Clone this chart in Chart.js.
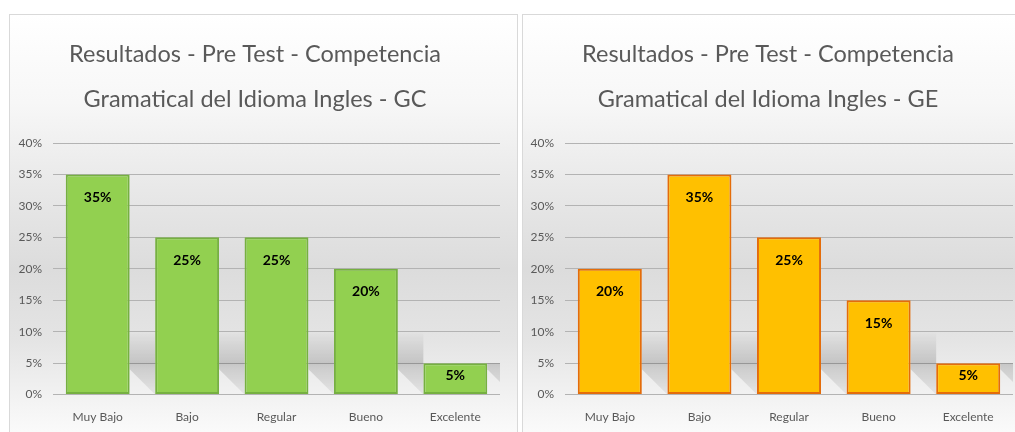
<!DOCTYPE html>
<html>
<head>
<meta charset="utf-8">
<script src="https://cdn.jsdelivr.net/npm/chart.js@4"></script>
<style>
    html, body { margin: 0; padding: 0; background: #fff; }
    body { width: 1015px; height: 432px; position: relative; overflow: hidden; }
    .box {
        position: absolute;
        top: 14px;
        height: 440px;
        box-sizing: border-box;
        border: 1px solid #d9d9d9;
        background: linear-gradient(to bottom, #ffffff 0%, #f7f7f7 20%, #e8e8e8 40%, #dcdcdc 58%, #e4e4e4 74%, #f5f5f5 90%, #ffffff 100%);
    }
    .box canvas { position: absolute; left: 0; top: 0; }
</style>
</head>
<body>
<div class="box" style="left:9px; width:509px;"><canvas id="chartGC" width="506" height="431"></canvas></div>
<div class="box" style="left:522px; width:500px;"><canvas id="chartGE" width="492" height="431"></canvas></div>
<script>
const categories = ['Muy Bajo', 'Bajo', 'Regular', 'Bueno', 'Excelente'];
const valuesGC = [35, 25, 25, 20, 5];
const valuesGE = [20, 35, 25, 15, 5];
const titleGC = ['Resultados - Pre Test - Competencia', 'Gramatical del Idioma Ingles - GC'];
const titleGE = ['Resultados - Pre Test - Competencia', 'Gramatical del Idioma Ingles - GE'];
const yMax = 40;
const yStep = 5;

const fontFamily = 'Lato, "Open Sans", sans-serif';

// soft floor shadow behind the bars
const floorShadow = {
    id: 'floorShadow',
    beforeDatasetsDraw(chart) {
        const ctx = chart.ctx;
        const area = chart.chartArea;
        const y = chart.scales.y;
        const meta = chart.getDatasetMeta(0);
        const top = y.getPixelForValue(10);
        const mid = y.getPixelForValue(5);
        const bottom = y.getPixelForValue(0);
        ctx.save();
        ctx.beginPath();
        ctx.rect(area.left, area.top, area.right - area.left, area.bottom - area.top);
        ctx.clip();
        meta.data.forEach((bar, i) => {
            const right = bar.x + bar.width / 2;
            const gap = chart.scales.x.width / categories.length - bar.width;
            const grad = ctx.createLinearGradient(0, top, 0, bottom);
            grad.addColorStop(0, 'rgba(0,0,0,0)');
            grad.addColorStop(0.5, 'rgba(0,0,0,0.16)');
            grad.addColorStop(0.56, 'rgba(0,0,0,0.13)');
            grad.addColorStop(1, 'rgba(0,0,0,0.05)');
            ctx.fillStyle = grad;
            ctx.beginPath();
            if (i < meta.data.length - 1) {
                ctx.moveTo(right, top);
                ctx.lineTo(right + gap, top);
            } else {
                ctx.moveTo(right, mid);
                ctx.lineTo(right + gap, mid);
            }
            ctx.lineTo(right + gap, bottom);
            ctx.lineTo(right, mid + 6);
            ctx.closePath();
            ctx.fill();
        });
        ctx.restore();
    }
};

// value labels inside the top of each bar
const barLabels = {
    id: 'barLabels',
    afterDatasetsDraw(chart) {
        const ctx = chart.ctx;
        const meta = chart.getDatasetMeta(0);
        const data = chart.data.datasets[0].data;
        ctx.save();
        ctx.font = 'bold 14px ' + fontFamily;
        ctx.fillStyle = '#000';
        ctx.textAlign = 'center';
        ctx.textBaseline = 'middle';
        meta.data.forEach((bar, i) => {
            const h = bar.base - bar.y;
            const off = Math.min(23, h / 2 - 3);
            ctx.fillText(data[i] + '%', bar.x, bar.y + off);
        });
        ctx.restore();
    }
};

function makeChart(id, values, title, fill, border, yWidth, padRight) {
    const ctx = document.getElementById(id).getContext('2d');
    return new Chart(ctx, {
        type: 'bar',
        data: {
            labels: categories,
            datasets: [{
                data: values,
                backgroundColor: fill,
                borderColor: border,
                borderWidth: 2,
                borderSkipped: false,
                categoryPercentage: 1,
                barPercentage: 0.715
            }]
        },
        options: {
            responsive: false,
            animation: false,
            layout: { padding: { left: 0, right: padRight, top: 0, bottom: 7 } },
            plugins: {
                legend: { display: false },
                tooltip: { enabled: false },
                title: {
                    display: true,
                    text: title,
                    color: '#595959',
                    font: { family: fontFamily, size: 23.5, weight: 'normal', lineHeight: '45px' },
                    padding: { top: 17, bottom: 21 }
                }
            },
            scales: {
                x: {
                    grid: { display: false, drawTicks: false },
                    border: { display: false },
                    ticks: { color: '#595959', padding: 15, font: { family: fontFamily, size: 12 } }
                },
                y: {
                    min: 0,
                    max: yMax,
                    afterFit(scale) { scale.width = yWidth; },
                    grid: { color: '#b3b3b3', lineWidth: 1, drawTicks: false },
                    border: { display: false },
                    ticks: {
                        stepSize: yStep,
                        color: '#595959',
                        padding: 11,
                        font: { family: fontFamily, size: 12 },
                        callback: v => v + '%'
                    }
                }
            }
        },
        plugins: [floorShadow, barLabels]
    });
}

makeChart('chartGC', valuesGC, titleGC, '#92d050', '#76b041', 43, 16);
makeChart('chartGE', valuesGE, titleGE, '#ffc000', '#e46c0a', 42, 2);
</script>
</body>
</html>
